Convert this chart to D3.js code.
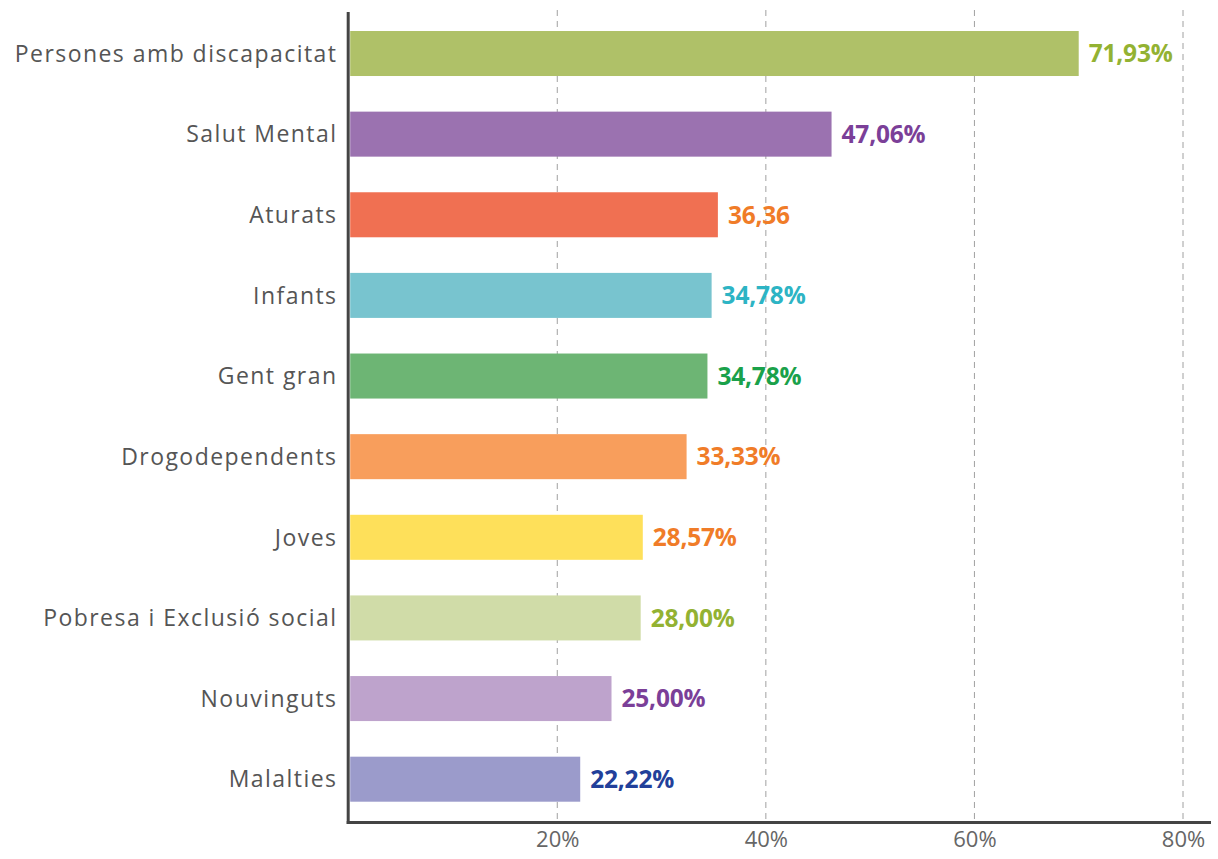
<!DOCTYPE html>
<html>
<head>
<meta charset="utf-8">
<script src="https://cdn.jsdelivr.net/npm/d3@7"></script>
<style>
  html, body { margin: 0; padding: 0; background: #fff; }
  svg { display: block; }
</style>
</head>
<body>
<svg id="chart" width="1218" height="859"></svg>
<script>
// ---- data ----
const categories = ["Persones amb discapacitat", "Salut Mental", "Aturats", "Infants", "Gent gran",
  "Drogodependents", "Joves", "Pobresa i Exclusió social", "Nouvinguts", "Malalties"];
// bar lengths (%) as drawn in the picture
const values = [70.0, 46.3, 35.4, 34.8, 34.4, 32.4, 28.2, 28.0, 25.2, 22.2];
// value labels as printed
const valueLabels = ["71,93%", "47,06%", "36,36", "34,78%", "34,78%", "33,33%", "28,57%", "28,00%", "25,00%", "22,22%"];
const barColors = ["#afc168", "#9b72b0", "#f07052", "#78c4cf", "#6db574", "#f89e5c", "#fee05a", "#d0dca8", "#bea3cc", "#9b9bcb"];
const labelColors = ["#93b232", "#7b3f98", "#f07c28", "#2db4c4", "#1aa14a", "#f07c28", "#f07c28", "#93b232", "#7b3f98", "#22409a"];
const tickValues = [20, 40, 60, 80];
const tickLabels = ["20%", "40%", "60%", "80%"];

// ---- layout ----
const svg = d3.select("#chart");
const x = d3.scaleLinear().domain([0, 80]).range([348.7, 1183]);
const y = d3.scaleBand().domain(categories).range([31, 801.7]).paddingInner(0.4417).paddingOuter(0);
const axisY = 822.5, axisTop = 12, gridTop = 10, axisRight = 1211;

// gridlines
svg.append("g").selectAll("line").data(tickValues).join("line")
  .attr("x1", d => x(d)).attr("x2", d => x(d))
  .attr("y1", gridTop).attr("y2", axisY)
  .attr("stroke", "#a0a0a0").attr("stroke-width", 1)
  .attr("stroke-dasharray", "6,5");

// bars
svg.append("g").selectAll("rect").data(categories).join("rect")
  .attr("x", x(0) + 1.5)
  .attr("y", d => y(d))
  .attr("width", (d, i) => x(values[i]) - x(0) - 1.5)
  .attr("height", y.bandwidth())
  .attr("fill", (d, i) => barColors[i]);

// value labels
svg.append("g").selectAll("text").data(categories).join("text")
  .attr("x", (d, i) => x(values[i]) + 10)
  .attr("y", d => y(d) + y.bandwidth() / 2)
  .attr("dy", "0.36em")
  .attr("font-family", "'Open Sans', sans-serif")
  .attr("font-weight", 700)
  .attr("font-size", 24.5)
  .attr("letter-spacing", "-0.2px")
  .attr("fill", (d, i) => labelColors[i])
  .text((d, i) => valueLabels[i]);

// category labels
svg.append("g").selectAll("text").data(categories).join("text")
  .attr("x", 337.5)
  .attr("y", d => y(d) + y.bandwidth() / 2)
  .attr("dy", "0.36em")
  .attr("text-anchor", "end")
  .attr("font-family", "'Open Sans', sans-serif")
  .attr("font-size", 23)
  .attr("letter-spacing", "1.45px")
  .attr("fill", "#555")
  .text(d => d);

// x axis tick labels via d3 axis
const xAxis = d3.axisBottom(x).tickValues(tickValues).tickSize(0).tickPadding(9)
  .tickFormat((d, i) => tickLabels[i]);
const gx = svg.append("g").attr("transform", `translate(0,${axisY})`).call(xAxis);
gx.select(".domain").remove();
gx.selectAll("text")
  .attr("font-family", "'Open Sans', sans-serif")
  .attr("font-size", 22)
  .attr("fill", "#666");

// axis lines
svg.append("line").attr("x1", x(0) - 0.5).attr("x2", x(0) - 0.5)
  .attr("y1", axisTop).attr("y2", axisY + 1.5)
  .attr("stroke", "#444").attr("stroke-width", 3);
svg.append("line").attr("x1", x(0) - 2).attr("x2", axisRight)
  .attr("y1", axisY).attr("y2", axisY)
  .attr("stroke", "#444").attr("stroke-width", 3);
</script>
</body>
</html>
